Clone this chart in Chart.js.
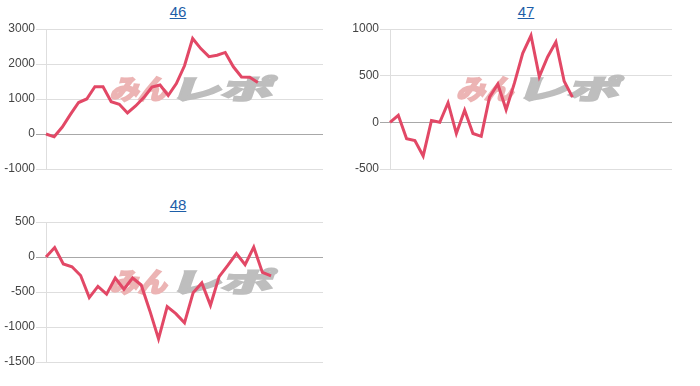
<!DOCTYPE html>
<html>
<head>
<meta charset="utf-8">
<script src="https://cdn.jsdelivr.net/npm/chart.js@4/dist/chart.umd.min.js"></script>
<style>
  body { margin: 0; background: #fff; width: 700px; height: 386px; position: relative; overflow: hidden; font-family: "Liberation Sans", Arial, sans-serif; }
  .title { position: absolute; text-align: center; font-size: 15px; line-height: 17px; }
  .title a { color: #1d5ea8; text-decoration: underline; }
  canvas { position: absolute; }
</style>
</head>
<body>
<div class="title" style="left:0; top:3px; width:356px;"><a href="#">46</a></div>
<div class="title" style="left:344px; top:3px; width:364px;"><a href="#">47</a></div>
<div class="title" style="left:0; top:196px; width:356px;"><a href="#">48</a></div>
<div style="position:absolute; left:0; top:20px; width:330px; height:159px;"><canvas id="chart46"></canvas></div>
<div style="position:absolute; left:344px; top:20px; width:335px; height:159px;"><canvas id="chart47"></canvas></div>
<div style="position:absolute; left:0; top:213px; width:330px; height:159px;"><canvas id="chart48"></canvas></div>
<script>
// values
const values46 = [0, -80, 200, 560, 900, 1000, 1350, 1350, 920, 850, 600, 800, 1040, 1340, 1400, 1100, 1440, 1950, 2730, 2440, 2210, 2250, 2330, 1920, 1630, 1620, 1470];
const values47 = [0, 75, -175, -195, -360, 20, 0, 210, -120, 130, -120, -150, 270, 410, 135, 420, 740, 930, 490, 700, 860, 440, 270];
const values48 = [0, 135, -100, -140, -265, -580, -420, -530, -300, -460, -300, -400, -770, -1170, -710, -810, -940, -510, -370, -690, -280, -120, 50, -110, 140, -220, -270];

// number of x slots on each chart
const slots46 = 35;
const slots47 = 35;
const slots48 = 33;

const ticks46 = { min: -1000, max: 3000, step: 1000 };
const ticks47 = { min: -500, max: 1000, step: 500 };
const ticks48 = { min: -1500, max: 500, step: 500 };

const lineColor = 'rgb(226, 72, 102)';

// draws the site's logo behind the line
const watermark = {
    id: 'watermark',
    beforeDatasetsDraw(chart) {
        const ctx = chart.ctx;
        const a = chart.chartArea;
        const cx = (a.left + a.right) / 2;
        const cy = (a.top + a.bottom) / 2;
        const x = cx - 72;
        const y = cy - 10;
        ctx.save();
        ctx.textBaseline = 'middle';
        ctx.font = 'bold 27px "Noto Sans CJK JP"';
        ctx.lineWidth = 2.5;
        ctx.setTransform(1.05, 0, -0.3, 1, 0, 0);
        ctx.fillStyle = ctx.strokeStyle = 'rgb(236, 180, 180)';
        ctx.strokeText('みん', (x + 0.3 * y) / 1.05, y);
        ctx.fillText('みん', (x + 0.3 * y) / 1.05, y);
        ctx.setTransform(1.9, 0, -0.35, 1, 0, 0);
        ctx.fillStyle = ctx.strokeStyle = 'rgb(190, 190, 190)';
        ctx.strokeText('レポ', (x + 60 + 0.35 * y) / 1.9, y);
        ctx.fillText('レポ', (x + 60 + 0.35 * y) / 1.9, y);
        ctx.restore();
    }
};

function makeChart(id, values, slots, t) {
    const labels = Array.from({ length: slots }, (_, i) => i + 1);
    new Chart(document.getElementById(id), {
        type: 'line',
        data: {
            labels: labels,
            datasets: [{
                data: values,
                borderColor: lineColor,
                borderWidth: 3,
                pointRadius: 0,
                tension: 0,
                fill: false
            }]
        },
        options: {
            responsive: true,
            maintainAspectRatio: false,
            animation: false,
            layout: { padding: { top: 9, bottom: 10, left: 0, right: 7 } },
            plugins: { legend: { display: false }, tooltip: { enabled: false } },
            scales: {
                x: { display: false },
                y: {
                    min: t.min,
                    max: t.max,
                    afterFit(scale) { scale.width = 46; },
                    ticks: {
                        stepSize: t.step,
                        padding: 1,
                        color: '#444',
                        font: { family: '"Liberation Sans", Arial', size: 12 },
                        callback: v => String(v)
                    },
                    grid: {
                        tickLength: 10,
                        color: ctx => ctx.tick && ctx.tick.value === 0 ? '#a8a8a8' : '#dedede'
                    },
                    border: { color: '#dedede' }
                }
            }
        },
        plugins: [watermark]
    });
}

makeChart('chart46', values46, slots46, ticks46);
makeChart('chart47', values47, slots47, ticks47);
makeChart('chart48', values48, slots48, ticks48);
</script>
</body>
</html>
